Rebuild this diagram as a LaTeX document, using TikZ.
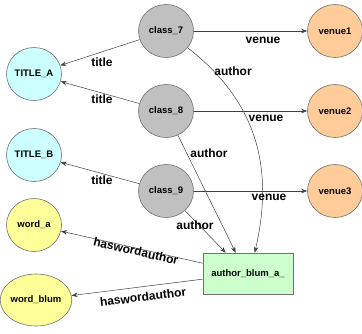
\documentclass[tikz,border=0pt]{standalone}
\usepackage{fontspec}
\setmainfont{Liberation Sans}
\usetikzlibrary{arrows.meta,shapes.geometric}
\definecolor{cgray}{HTML}{C0C0C0}
\definecolor{ccyan}{HTML}{CCFFFF}
\definecolor{cyell}{HTML}{FFFF99}
\definecolor{corange}{HTML}{FFCC99}
\definecolor{cgreen}{HTML}{CCFFCC}
\definecolor{cborder}{HTML}{707070}
\tikzset{
  circ/.style={ellipse,draw=cborder,line width=0.6pt,minimum width=55pt,minimum height=53pt,inner sep=0pt,
    font=\fontsize{9.5}{11}\selectfont\bfseries},
  boxn/.style={rectangle,draw=cborder,line width=0.6pt,minimum width=90pt,minimum height=41pt,inner sep=0pt,
    font=\fontsize{9.5}{11}\selectfont\bfseries},
  edge/.style={draw=black!75,line width=0.5pt,-{Stealth[length=6pt,width=4.5pt]}},
  elab/.style={font=\fontsize{12}{14}\selectfont\bfseries,inner sep=0pt}
}
\begin{document}
\begin{tikzpicture}[x=1pt,y=-1pt]
\useasboundingbox (0,0) rectangle (362,333);
% nodes
\node[circ,fill=cgray] (c7) at (166,31) {class\_7};
\node[circ,fill=cgray] (c8) at (166,111) {class\_8};
\node[circ,fill=cgray] (c9) at (166,191) {class\_9};
\node[circ,fill=ccyan] (ta) at (34,74) {TITLE\_A};
\node[circ,fill=ccyan] (tb) at (34,155) {TITLE\_B};
\node[circ,fill=cyell] (wa) at (34,225) {word\_a};
\node[circ,fill=cyell,minimum width=62pt,minimum height=52pt] (wb) at (36,300) {word\_blum};
\node[circ,fill=corange] (v1) at (335,31) {venue1};
\node[circ,fill=corange] (v2) at (335,111) {venue2};
\node[circ,fill=corange] (v3) at (335,191) {venue3};
\node[boxn,fill=cgreen] (ab) at (248,273.5) {author\_blum\_a\_};
% edges
\draw[edge] (c7) -- (ta);
\draw[edge] (c8) -- (ta);
\draw[edge] (c9) -- (tb);
\draw[edge] (c7) -- (v1);
\draw[edge] (c8) -- (v2);
\draw[edge] (c9) -- (v3);
\draw[edge] (c7) .. controls (255,100) and (275,165) .. ([xshift=52pt]ab.north west);
\draw[edge] (c8) -- ([xshift=33pt]ab.north west);
\draw[edge] (c9) -- ([xshift=23pt]ab.north west);
\draw[edge] (ab) -- (wa);
\draw[edge] (ab) -- (wb);
% labels
\node[elab] (l1) at (102,62) {title};
\node[elab] (l2) at (102,99.5) {title};
\node[elab] (l3) at (102,180) {title};
\node[elab] (l4) at (263,40) {venue};
\node[elab] (l5) at (266,118) {venue};
\node[elab] (l6) at (269,197) {venue};
\node[elab] (l7) at (233,71) {author};
\node[elab] (l8) at (209,153) {author};
\node[elab] (l9) at (195,225) {author};
\node[elab,rotate=-13] (l10) at (136,251) {haswordauthor};
\node[elab,rotate=7] (l11) at (143,297) {haswordauthor};
\end{tikzpicture}
\end{document}
